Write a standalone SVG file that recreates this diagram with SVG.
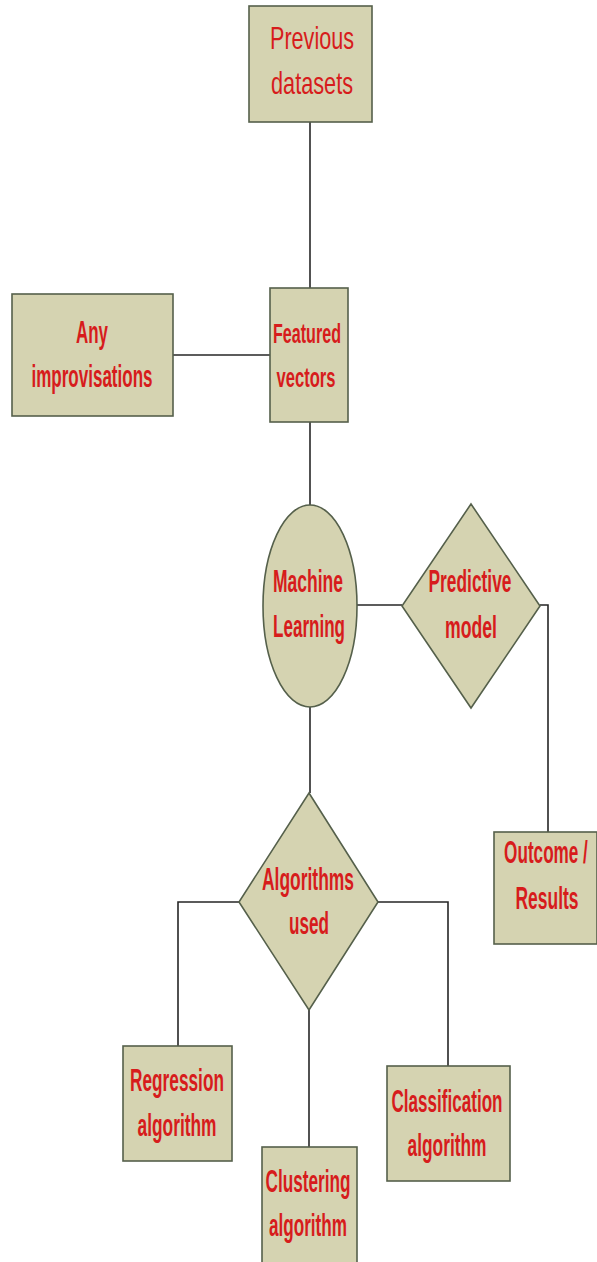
<svg xmlns="http://www.w3.org/2000/svg" width="597" height="1262" viewBox="0 0 597 1262">
<style>
.shape{fill:#d5d3b1;stroke:#55604b;stroke-width:1.6}
.t{font-family:"Liberation Sans",Arial,sans-serif;font-size:31px;font-weight:bold;fill:#d71c1c;text-anchor:middle}
.r{font-weight:normal;font-size:32px}
.c{fill:none;stroke:#262626;stroke-width:1.6}
</style>
<rect width="597" height="1262" fill="#ffffff"/>
<g id="connectors">
<path class="c" d="M310,122V288"/>
<path class="c" d="M173,355H270"/>
<path class="c" d="M310,422V505"/>
<path class="c" d="M356,605H402"/>
<path class="c" d="M540,605H548V832"/>
<path class="c" d="M310,707V793"/>
<path class="c" d="M239,902H178V1046"/>
<path class="c" d="M378,902H448V1066"/>
<path class="c" d="M309,1010V1147"/>
</g>
<g id="previous-datasets">
<rect class="shape" x="249" y="6" width="123" height="116"/>
<text class="t r" x="312" y="49" textLength="84" lengthAdjust="spacingAndGlyphs">Previous</text>
<text class="t r" x="312" y="94" textLength="82" lengthAdjust="spacingAndGlyphs">datasets</text>
</g>
<g id="any-improvisations">
<rect class="shape" x="12" y="294" width="161" height="122"/>
<text class="t" x="92" y="343" textLength="32" lengthAdjust="spacingAndGlyphs">Any</text>
<text class="t" x="92" y="387" textLength="121" lengthAdjust="spacingAndGlyphs">improvisations</text>
</g>
<g id="featured-vectors">
<rect class="shape" x="270" y="288" width="78" height="134"/>
<text class="t" x="307" y="343" style="font-size:28px" textLength="68" lengthAdjust="spacingAndGlyphs">Featured</text>
<text class="t" x="306" y="387" style="font-size:28px" textLength="59" lengthAdjust="spacingAndGlyphs">vectors</text>
</g>
<g id="machine-learning">
<ellipse class="shape" cx="310" cy="606" rx="47" ry="101"/>
<text class="t" x="308" y="592" textLength="70" lengthAdjust="spacingAndGlyphs">Machine</text>
<text class="t" x="309" y="637" textLength="72" lengthAdjust="spacingAndGlyphs">Learning</text>
</g>
<g id="predictive-model">
<polygon class="shape" points="471,504 540,606 471,708 402,606"/>
<text class="t" x="470" y="592" textLength="83" lengthAdjust="spacingAndGlyphs">Predictive</text>
<text class="t" x="471" y="638" textLength="52" lengthAdjust="spacingAndGlyphs">model</text>
</g>
<g id="outcome-results">
<rect class="shape" x="494" y="832" width="103" height="112"/>
<text class="t" transform="translate(546,863) scale(0.553,1)" x="0" y="0">Outcome /</text>
<text class="t" transform="translate(547,909) scale(0.563,1)" x="0" y="0">Results</text>
</g>
<g id="algorithms-used">
<polygon class="shape" points="309,793 378,902 309,1010 239,902"/>
<text class="t" x="308" y="890" textLength="92" lengthAdjust="spacingAndGlyphs">Algorithms</text>
<text class="t" x="309" y="934" textLength="40" lengthAdjust="spacingAndGlyphs">used</text>
</g>
<g id="regression-algorithm">
<rect class="shape" x="123" y="1046" width="109" height="115"/>
<text class="t" x="177" y="1091" textLength="94" lengthAdjust="spacingAndGlyphs">Regression</text>
<text class="t" x="177" y="1136" textLength="79" lengthAdjust="spacingAndGlyphs">algorithm</text>
</g>
<g id="clustering-algorithm">
<rect class="shape" x="262" y="1147" width="95" height="118"/>
<text class="t" x="308" y="1192" textLength="85" lengthAdjust="spacingAndGlyphs">Clustering</text>
<text class="t" x="308" y="1236" textLength="78" lengthAdjust="spacingAndGlyphs">algorithm</text>
</g>
<g id="classification-algorithm">
<rect class="shape" x="387" y="1066" width="123" height="115"/>
<text class="t" x="447" y="1112" textLength="111" lengthAdjust="spacingAndGlyphs">Classification</text>
<text class="t" x="447" y="1156" textLength="79" lengthAdjust="spacingAndGlyphs">algorithm</text>
</g>
</svg>
